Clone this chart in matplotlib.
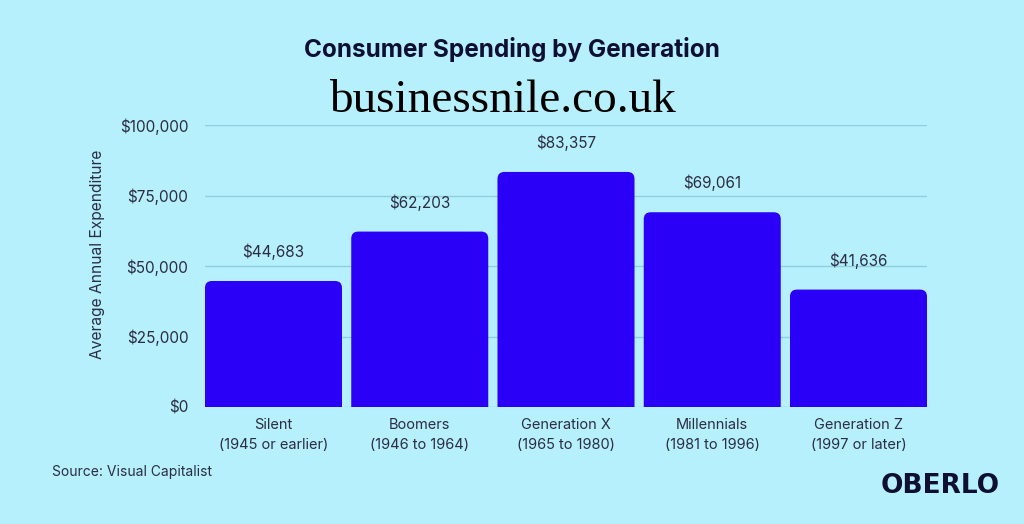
import matplotlib
matplotlib.use("Agg")
import matplotlib.pyplot as plt
from matplotlib.patches import FancyBboxPatch

categories = ["Silent\n(1945 or earlier)", "Boomers\n(1946 to 1964)", "Generation X\n(1965 to 1980)",
              "Millennials\n(1981 to 1996)", "Generation Z\n(1997 or later)"]
values = [44683, 62203, 83357, 69061, 41636]
yticks = [0, 25000, 50000, 75000, 100000]
ytick_labels = ["$0", "$25,000", "$50,000", "$75,000", "$100,000"]

BG = "#b6f0fc"
BAR = "#2a00f6"
DARK = "#2b2d42"
NAVY = "#0e0f33"
FONT = ["Inter", "DejaVu Sans"]

fig = plt.figure(figsize=(10.24, 5.24), dpi=100, facecolor=BG)
ax = fig.add_axes([205/1024, 117/524, 722/1024, 282/524], facecolor=BG)

W = 137 / 146.25
x = list(range(len(values)))
bars = ax.bar(x, values, width=W, color=BAR, zorder=3)
ax.set_xlim(-W / 2, len(values) - 1 + W / 2)
ax.set_ylim(0, 100000)

fig.canvas.draw()
# rounded top corners (bottom corners hidden below the axis)
px_x = ax.transData.transform((1, 0))[0] - ax.transData.transform((0, 0))[0]
px_y = ax.transData.transform((0, 1))[1] - ax.transData.transform((0, 0))[1]
aspect = px_x / px_y
rad = 7.0 / px_x
ext = 20.0 / px_y
for b in bars:
    bx, bw, bh = b.get_x(), b.get_width(), b.get_height()
    b.set_visible(False)
    p = FancyBboxPatch((bx, -ext), bw, bh + ext,
                       boxstyle=f"round,pad=0,rounding_size={rad}",
                       mutation_aspect=aspect, facecolor=BAR, edgecolor="none", zorder=3)
    ax.add_patch(p)
    p.set_clip_on(True)

for xi, v in zip(x, values):
    ax.annotate(f"${v:,}", (xi, v), xytext=(0, 15), textcoords="offset points",
                ha="center", va="bottom", fontsize=11, color=DARK, family=FONT)

ax.set_yticks(yticks)
ax.set_yticklabels(ytick_labels, fontsize=11, color=DARK, family=FONT)
ax.set_xticks(x)
ax.set_xticklabels(categories, fontsize=10.5, color=DARK, family=FONT, linespacing=1.55)
ax.tick_params(axis="both", length=0)
ax.tick_params(axis="y", pad=12)
ax.tick_params(axis="x", pad=8)
ax.grid(axis="y", color="#8fd0e0", linewidth=1, zorder=0)
for s in ax.spines.values():
    s.set_visible(False)

ax.set_ylabel("Average Annual Expenditure", fontsize=11.2, color=DARK, family=FONT)
ax.yaxis.set_label_coords((105 - 205) / 722, (407 - 254) / 282)

fig.text(0.5, 1 - 50/524, "Consumer Spending by Generation", ha="center", va="center",
         fontsize=17.5, fontweight="bold", color=NAVY, family=FONT)
fig.text(502/1024, 1 - 101/524, "businessnile.co.uk", ha="center", va="center",
         fontsize=34, color="black", family=["Liberation Serif", "DejaVu Serif"])
fig.text(52/1024, 1 - 472/524, "Source: Visual Capitalist", ha="left", va="center",
         fontsize=10, color=DARK, family=FONT)
fig.text(1000/1024, 1 - 486/524, "OBERLO", ha="right", va="center",
         fontsize=19, fontweight="heavy", color=NAVY, family=["DejaVu Sans"])

fig.savefig("out.png", dpi=100, facecolor=BG)
